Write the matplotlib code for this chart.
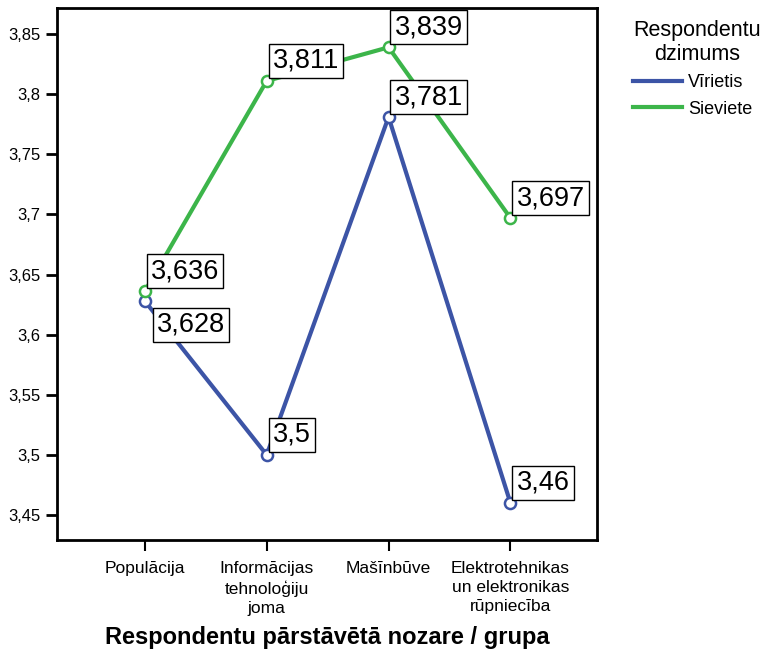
import matplotlib
matplotlib.use("Agg")
import matplotlib.pyplot as plt
from matplotlib.lines import Line2D

plt.rcParams['font.family'] = ['Liberation Sans', 'DejaVu Sans']

categories = ["Populācija", "Informācijas\ntehnoloģiju\njoma", "Mašīnbūve",
              "Elektrotehnikas\nun elektronikas\nrūpniecība"]
virietis = [3.628, 3.5, 3.781, 3.46]
sieviete = [3.636, 3.811, 3.839, 3.697]
virietis_labels = ["3,628", "3,5", "3,781", "3,46"]
sieviete_labels = ["3,636", "3,811", "3,839", "3,697"]
yticks = [3.45, 3.5, 3.55, 3.6, 3.65, 3.7, 3.75, 3.8, 3.85]
ytick_labels = ["3,45", "3,5", "3,55", "3,6", "3,65", "3,7", "3,75", "3,8", "3,85"]

blue = "#3c54a6"
green = "#3cb54a"

px = 72 / 100.0
fig = plt.figure(figsize=(7.64, 6.5), dpi=100)
ax = fig.add_axes([57 / 764, 110 / 650, 540 / 764, 532 / 650])

x = list(range(len(categories)))
ax.plot(x, virietis, color=blue, lw=3, marker='o', ms=8, mfc='white', mec=blue, mew=1.8, zorder=3)
ax.plot(x, sieviete, color=green, lw=3, marker='o', ms=8, mfc='white', mec=green, mew=1.8, zorder=3)

bbox = dict(boxstyle='square,pad=0.15', fc='white', ec='black', lw=1)
for i, (v, lab) in enumerate(zip(sieviete, sieviete_labels)):
    ax.annotate(lab, (i, v), xytext=(6 * px, 7 * px), textcoords='offset points',
                ha='left', va='bottom', fontsize=19.5, bbox=bbox, zorder=5)
for i, (v, lab) in enumerate(zip(virietis, virietis_labels)):
    if i == 0:
        ax.annotate(lab, (i, v), xytext=(12 * px, -11 * px), textcoords='offset points',
                    ha='left', va='top', fontsize=19.5, bbox=bbox, zorder=5)
    else:
        ax.annotate(lab, (i, v), xytext=(6 * px, 7 * px), textcoords='offset points',
                    ha='left', va='bottom', fontsize=19.5, bbox=bbox, zorder=5)

ax.set_xlim(-0.72, 3.71)
ax.set_ylim(3.4292, 3.8717)
ax.set_yticks(yticks)
ax.set_yticklabels(ytick_labels, fontsize=12)
ax.set_xticks(x)
ax.set_xticklabels(categories, fontsize=12.5, linespacing=1.35)
ax.tick_params(axis='y', length=8, width=2, pad=4)
ax.tick_params(axis='x', length=8, width=1.5, pad=7)
for s in ax.spines.values():
    s.set_linewidth(2)
ax.set_xlabel("Respondentu pārstāvētā nozare / grupa", fontsize=17, fontweight='bold', labelpad=7)

handles = [Line2D([], [], color=blue, lw=3), Line2D([], [], color=green, lw=3)]
leg = fig.legend(handles, ["Vīrietis", "Sieviete"], title="Respondentu\ndzimums",
                 loc='upper left', bbox_to_anchor=(617 / 764, 1 - 4 / 650), frameon=False,
                 fontsize=13, title_fontsize=15.5, handlelength=2.7, handletextpad=0.35,
                 labelspacing=0.5)
leg.get_title().set_multialignment('center')
leg._legend_box.align = 'left'

fig.savefig("out.png", dpi=100)
